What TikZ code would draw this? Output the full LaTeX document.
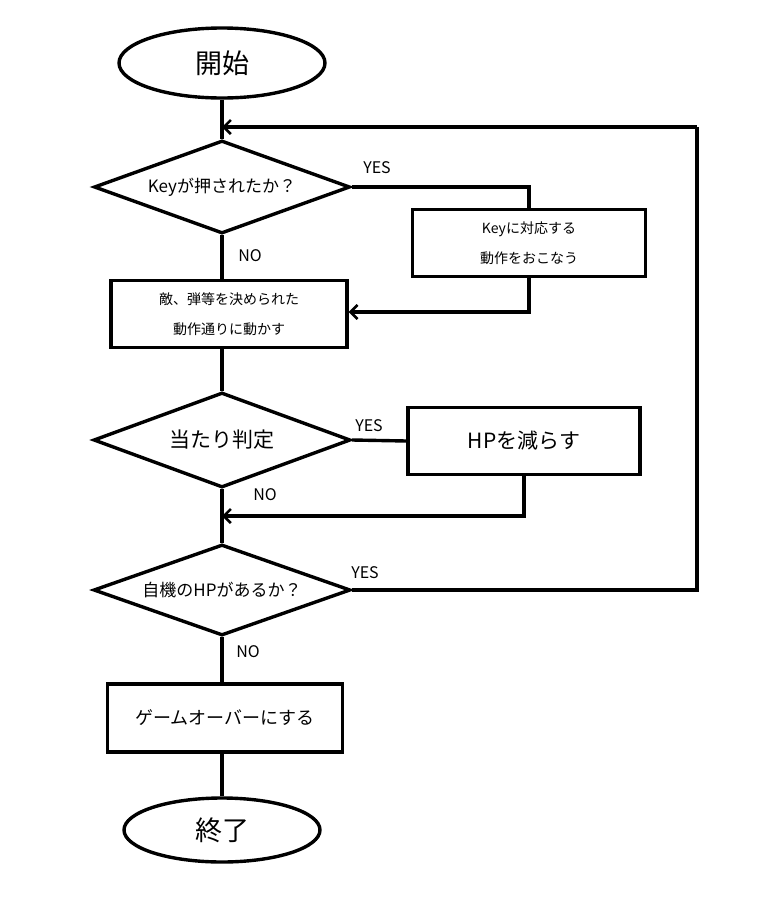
\documentclass[tikz,border=0pt]{standalone}
\usepackage{fontspec}
\setmainfont{Noto Sans CJK JP}
\usetikzlibrary{shapes.geometric,arrows.meta}
\tikzset{>={Straight Barb[length=7pt,width=14pt,line width=2.6pt]}}
\tikzset{flow/.style={line width=3.4pt}}
\tikzset{term/.style={ellipse, draw, line width=3.4pt, inner sep=0pt, font=\fontsize{27}{29}\selectfont}}
\tikzset{proc/.style={rectangle, draw, line width=3.4pt, inner sep=0pt, align=center}}
\tikzset{dec/.style={diamond, draw, line width=3.4pt, inner sep=0pt, minimum width=256pt, minimum height=93pt}}
\tikzset{yn/.style={font=\fontsize{16}{17}\selectfont}}

\begin{document}
\begin{tikzpicture}[x=1pt,y=-1pt]
      \useasboundingbox (0,0) rectangle (780,900);
	  \node[term, minimum width=206pt, minimum height=70pt] (start) at (222,63) {開始};
	  \node[dec, label={center:\fontsize{17}{19}\selectfont Keyが押されたか？}] (key) at (222,187) {};
	  \node[proc, minimum width=233pt, minimum height=67pt, font=\fontsize{14}{30}\selectfont] (act) at (529,243) {Keyに対応する\\動作をおこなう};
	  \node[proc, minimum width=236pt, minimum height=67pt, font=\fontsize{14}{30}\selectfont] (move) at (229,314) {敵、弾等を決められた\\動作通りに動かす};
	  \node[dec, minimum width=257pt, minimum height=95pt, label={center:\fontsize{21}{22}\selectfont 当たり判定}] (hit) at (222,440) {};
	  \node[proc, minimum width=232pt, minimum height=67pt, font=\fontsize{21}{22}\selectfont] (hp) at (524,441) {HPを減らす};
	  \node[dec, minimum width=257pt, minimum height=91pt, label={center:\fontsize{17}{19}\selectfont 自機のHPがあるか？}] (alive) at (222,590) {};
	  \node[proc, minimum width=235pt, minimum height=68pt, font=\fontsize{18}{20}\selectfont] (over) at (225,718) {ゲームオーバーにする};
	  \node[term, minimum width=196pt, minimum height=64pt] (stop) at (222,830) {終了};

	  \coordinate (j1) at (222,127);
	  \coordinate (j2) at (222,516);
	  \coordinate (c1) at (697,590);
	  \coordinate (c2) at (697,127);

	  \draw[flow] (start.south) -- (key.north);
	  \draw[flow] (key.east) -| (act.north);
	  \draw[flow,->] (act.south) |- (move.east |- 0,312);
	  \draw[flow] (key.south) -- (222,281);
	  \draw[flow] (222,348) -- (hit.north);
	  \draw[flow] (hit.east) -- (hp.west);
	  \draw[flow,->] (hp.south) |- (j2);
	  \draw[flow] (hit.south) -- (alive.north);
	  \draw[flow] (alive.east) -- (c1) -- (c2);
	  \draw[flow,->] (c2) -- (j1);
	  \draw[flow] (alive.south) -- (over.north -| 222,0);
	  \draw[flow] (over.south -| 222,0) -- (stop.north);

	  \node[yn] at (377,168) {YES};
	  \node[yn] at (250,256) {NO};
	  \node[yn] at (369,426) {YES};
	  \node[yn] at (265,495) {NO};
	  \node[yn] at (365,573) {YES};
	  \node[yn] at (248,652) {NO};
\end{tikzpicture}
\end{document}
